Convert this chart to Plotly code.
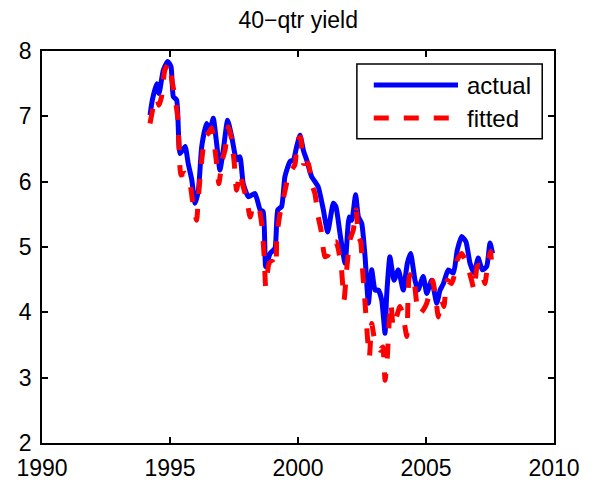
import plotly.graph_objects as go

# ---- data (decimal years, percent) ----
years_actual = [1994.22,1994.31,1994.48,1994.57,1994.74,1994.91,1995.04,1995.13,1995.26,1995.39,
                1995.59,1995.71,1995.85,1995.98,1996.11,1996.24,1996.43,1996.56,1996.69,1996.82,
                1996.95,1997.08,1997.25,1997.41,1997.60,1997.73,1997.86,1998.06,1998.32,1998.52,
                1998.64,1998.74,1998.91,1999.10,1999.21,1999.36,1999.49,1999.69,1999.82,1999.95,
                2000.08,2000.21,2000.34,2000.53,2000.79,2000.99,2001.16,2001.38,2001.48,2001.64,
                2001.84,2002.00,2002.10,2002.25,2002.36,2002.49,2002.62,2002.75,2002.88,2003.01,
                2003.14,2003.27,2003.40,2003.46,2003.59,2003.75,2003.92,2004.11,2004.27,2004.40,
                2004.57,2004.69,2004.89,2005.03,2005.22,2005.42,2005.55,2005.68,2005.87,2006.07,
                2006.22,2006.39,2006.56,2006.72,2006.88,2007.04,2007.20,2007.37,2007.50,2007.60]
actual = [7.02,7.25,7.50,7.35,7.71,7.84,7.76,7.30,7.25,6.43,
          6.54,6.28,6.03,5.67,5.87,6.54,6.89,6.79,6.97,6.59,
          6.18,6.48,6.94,6.69,6.33,6.38,5.97,5.77,5.82,5.57,
          5.54,4.70,4.90,4.98,5.57,5.62,6.08,6.31,6.33,6.54,
          6.71,6.48,6.33,6.08,5.92,5.57,5.23,5.67,5.62,5.21,
          4.75,5.46,5.41,5.80,5.46,5.36,4.85,4.14,4.65,4.34,
          4.34,4.19,3.68,4.24,4.85,4.49,4.65,4.34,4.75,4.90,
          4.49,4.34,4.55,4.29,4.49,4.14,4.34,4.44,4.65,4.60,
          4.95,5.16,5.08,4.75,4.60,4.83,4.65,4.70,5.06,4.90]

years_fitted = [1994.22,1994.35,1994.48,1994.57,1994.67,1994.80,1994.96,1995.07,1995.17,1995.30,
                1995.36,1995.43,1995.59,1995.78,1995.91,1996.04,1996.11,1996.24,1996.37,1996.50,
                1996.63,1996.76,1996.82,1996.91,1997.04,1997.15,1997.28,1997.41,1997.51,1997.60,
                1997.73,1997.86,1998.00,1998.13,1998.25,1998.45,1998.58,1998.68,1998.74,1998.87,
                1999.00,1999.13,1999.17,1999.30,1999.47,1999.62,1999.75,1999.88,1999.99,2000.10,
                2000.21,2000.40,2000.53,2000.66,2000.79,2000.90,2001.05,2001.18,2001.32,2001.48,
                2001.57,2001.70,2001.80,2001.90,2002.03,2002.16,2002.27,2002.36,2002.45,2002.53,
                2002.62,2002.71,2002.79,2002.88,2002.97,2003.07,2003.20,2003.31,2003.40,2003.49,
                2003.55,2003.63,2003.72,2003.85,2003.98,2004.09,2004.25,2004.35,2004.48,2004.64,
                2004.77,2004.90,2005.03,2005.13,2005.26,2005.39,2005.48,2005.61,2005.70,2005.83,
                2006.00,2006.13,2006.22,2006.39,2006.59,2006.78,2006.88,2007.00,2007.11,2007.30,
                2007.43,2007.52,2007.56]
fitted = [6.89,7.15,7.28,7.17,7.30,7.71,7.81,7.56,7.35,6.99,
          6.48,6.10,6.13,5.97,5.62,5.41,5.77,6.33,6.69,6.74,
          6.82,6.48,6.28,5.97,6.33,6.48,6.84,6.64,6.28,5.87,
          6.13,5.92,5.72,5.46,5.62,5.62,5.36,4.85,4.39,4.75,
          4.78,4.70,5.16,5.52,5.82,6.08,6.18,6.26,6.64,6.68,
          6.28,6.28,5.97,5.82,5.46,5.26,4.85,4.88,5.06,5.08,
          4.98,4.65,4.19,4.65,5.11,5.26,5.57,5.16,5.08,4.60,
          4.14,3.63,3.32,3.83,3.63,3.53,3.42,3.47,2.96,3.32,
          3.78,4.14,3.78,3.93,4.09,3.98,3.63,4.55,4.60,4.14,
          3.98,4.04,4.14,4.29,4.49,4.19,3.93,4.19,4.09,4.49,
          4.44,4.60,4.80,4.90,4.75,4.49,4.34,4.70,4.72,4.44,
          4.80,4.93,4.75]

x_ticks = [1990, 1995, 2000, 2005, 2010]
y_ticks = [2, 3, 4, 5, 6, 7, 8]
series_names = ["actual", "fitted"]
title_text = "40\u2212qtr yield"

FONT = "Liberation Sans, Arial, sans-serif"

fig = go.Figure()
fig.add_trace(go.Scatter(x=years_actual, y=actual, mode="lines", name=series_names[0],
                         line=dict(color="#0000ff", width=5, shape="spline", smoothing=0.5),
                         showlegend=False))
fig.add_trace(go.Scatter(x=years_fitted, y=fitted, mode="lines", name=series_names[1],
                         line=dict(color="#ff0000", width=5, dash="15px,15px", shape="spline", smoothing=0.5),
                         showlegend=False))

axis_common = dict(showline=True, linecolor="black", linewidth=1.5, mirror="ticks",
                   ticks="inside", ticklen=6, tickwidth=1.5, tickcolor="black",
                   showgrid=False, zeroline=False, automargin=False,
                   tickfont=dict(family=FONT, size=23, color="black"))

fig.update_layout(
    template="none",
    width=600, height=485,
    margin=dict(l=42, r=46, t=51, b=42),
    paper_bgcolor="white", plot_bgcolor="white",
    title=dict(text=title_text, x=0.497, xanchor="center", y=1 - 20/485, yref="container",
               yanchor="middle", font=dict(family=FONT, size=23, color="black")),
    xaxis=dict(range=[1990, 2010], tickvals=x_ticks, ticktext=[str(v) for v in x_ticks],
               ticklabelstandoff=4, **axis_common),
    yaxis=dict(range=[2, 8], tickvals=y_ticks, ticktext=[str(v) for v in y_ticks],
               ticklabelstandoff=4, **axis_common),
)

# legend box (drawn like MATLAB's legend)
fig.add_shape(type="rect", xref="paper", yref="paper", x0=0.615, x1=0.977, y0=0.776, y1=0.967,
              line=dict(color="black", width=1.5), fillcolor="white", layer="above")
legend_rows = [(0.913, "#0000ff", "solid"), (0.829, "#ff0000", "15px,15px")]
for (yy, col, dsh), name in zip(legend_rows, series_names):
    fig.add_shape(type="line", xref="paper", yref="paper", x0=0.648, x1=0.8125, y0=yy, y1=yy,
                  line=dict(color=col, width=5, dash=dsh), layer="above")
    fig.add_annotation(xref="paper", yref="paper", x=0.826, y=yy, text=name, showarrow=False,
                       xanchor="left", yanchor="middle",
                       font=dict(family=FONT, size=24, color="black"))

fig.write_html("out.html", config={"displayModeBar": False},
               post_script="document.body.style.margin='0';document.body.style.overflow='hidden';")
